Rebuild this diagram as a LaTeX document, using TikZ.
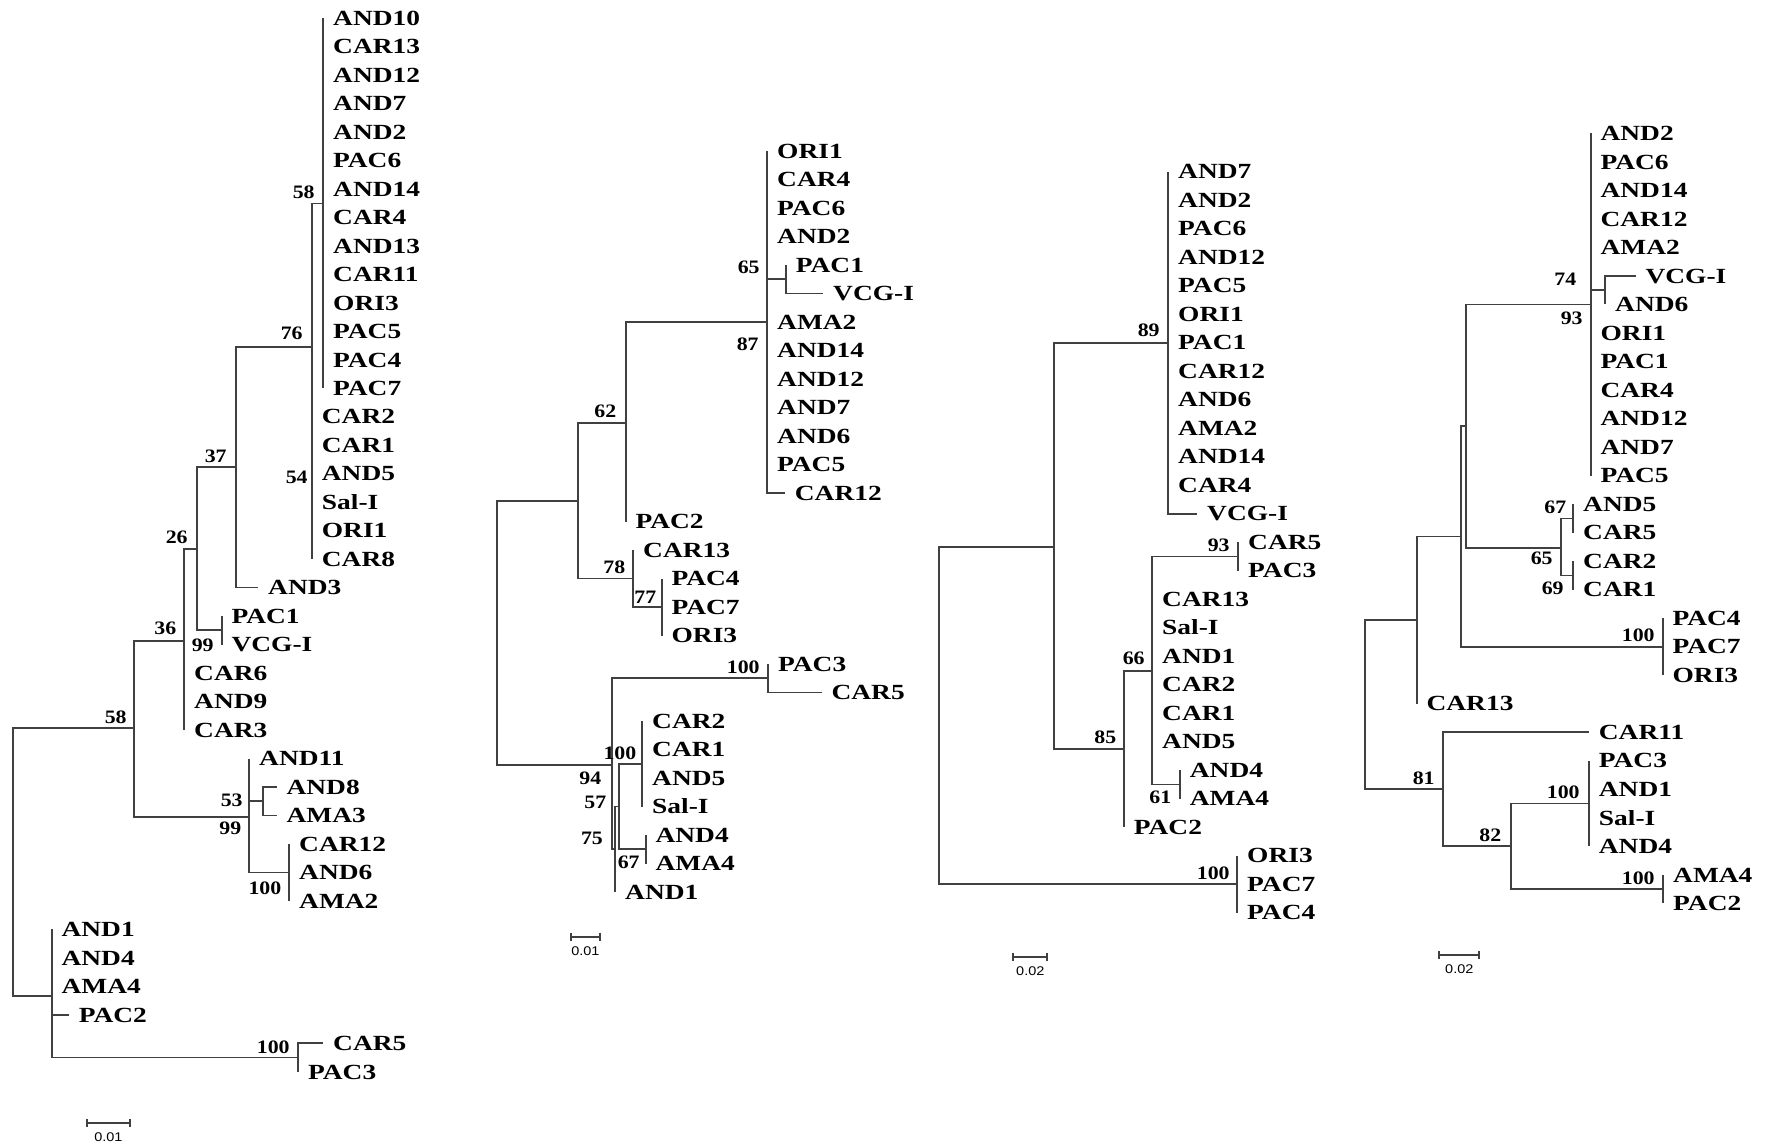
\documentclass[tikz,border=0pt]{standalone}
\usepackage{fontspec}
\newfontfamily\taxonfont{Liberation Serif}[FakeStretch=1.27]
\newfontfamily\bootfont{Liberation Serif}[FakeStretch=1.15]
\newfontfamily\barfont{Liberation Sans}[FakeStretch=1.15]

\tikzset{
  branch/.style={draw=black!75, line width=0.85pt},
  taxon/.style={anchor=base west, inner sep=0pt, yshift=-3.6pt,
    font=\taxonfont\bfseries\fontsize{10.8}{12}\selectfont},
  boot/.style={anchor=base east, inner sep=0pt, yshift=-3.2pt,
    font=\bootfont\bfseries\fontsize{9.5}{11}\selectfont},
  barlabel/.style={anchor=base, inner sep=0pt, yshift=-2.25pt,
    font=\barfont\fontsize{6.3}{7}\selectfont},
}
% a tip of the tree and its label
\newcommand\taxonat[4]{\coordinate (#1) at (#2,#3); \node[taxon] (#1l) at ({#2+9.5},#3) {#4};}
% a bootstrap value, right edge at x
\newcommand\bootat[4]{\node[boot] (#1) at (#2,#3) {#4};}
% rectangular branches from a parent to each child, stroked as one path
\newcommand\joinkids[2]{\draw[branch] \foreach \kid in {#2}{(#1) |- (\kid)};}
% scale bar: name, x0, x1, y, text
\newcommand\scalebar[5]{%
  \coordinate (#1a) at (#2,#4); \coordinate (#1b) at (#3,#4);
  \draw[branch] (#1a) -- (#1b)
    ([yshift=2pt]#1a) -- ([yshift=-2pt]#1a)
    ([yshift=2pt]#1b) -- ([yshift=-2pt]#1b);
  \node[barlabel] (#1t) at ({(#2+#3)/2},{#4+14}) {#5};}

\begin{document}
\begin{tikzpicture}[x=0.5pt, y=-0.5pt]
\fill[white] (0,0) rectangle (1765,1146);
\useasboundingbox (0,0) rectangle (1765,1146);

% ================= tree 1 =================
\taxonat{a0}{323.3}{18.0}{AND10}
\taxonat{a1}{323.3}{46.5}{CAR13}
\taxonat{a2}{323.3}{75.0}{AND12}
\taxonat{a3}{323.3}{103.4}{AND7}
\taxonat{a4}{323.3}{131.9}{AND2}
\taxonat{a5}{323.3}{160.4}{PAC6}
\taxonat{a6}{323.3}{188.9}{AND14}
\taxonat{a7}{323.3}{217.4}{CAR4}
\taxonat{a8}{323.3}{245.8}{AND13}
\taxonat{a9}{323.3}{274.3}{CAR11}
\taxonat{a10}{323.3}{302.8}{ORI3}
\taxonat{a11}{323.3}{331.3}{PAC5}
\taxonat{a12}{323.3}{359.8}{PAC4}
\taxonat{a13}{323.3}{388.2}{PAC7}
\taxonat{a14}{312}{416.7}{CAR2}
\taxonat{a15}{312}{445.2}{CAR1}
\taxonat{a16}{312}{473.7}{AND5}
\taxonat{a17}{312}{502.2}{Sal-I}
\taxonat{a18}{312}{530.6}{ORI1}
\taxonat{a19}{312}{559.1}{CAR8}
\taxonat{a20}{258.3}{587.6}{AND3}
\taxonat{a21}{221.7}{616.1}{PAC1}
\taxonat{a22}{221.7}{644.6}{VCG-I}
\taxonat{a23}{184.3}{673.0}{CAR6}
\taxonat{a24}{184.3}{701.5}{AND9}
\taxonat{a25}{184.3}{730.0}{CAR3}
\taxonat{a26}{249.3}{758.5}{AND11}
\taxonat{a27}{276.7}{787.0}{AND8}
\taxonat{a28}{276.7}{815.4}{AMA3}
\taxonat{a29}{289.3}{843.9}{CAR12}
\taxonat{a30}{289.3}{872.4}{AND6}
\taxonat{a31}{289.3}{900.9}{AMA2}
\taxonat{a32}{51.7}{929.4}{AND1}
\taxonat{a33}{51.7}{957.8}{AND4}
\taxonat{a34}{51.7}{986.3}{AMA4}
\taxonat{a35}{69}{1014.8}{PAC2}
\taxonat{a36}{323.3}{1043.3}{CAR5}
\taxonat{a37}{298.3}{1071.8}{PAC3}

\coordinate (an58) at (323.3,203.6);
\coordinate (an76) at (312,346.7);
\coordinate (an37) at (235.7,467.3);
\coordinate (an26) at (196.7,549.3);
\coordinate (an99) at (221.7,630.3);
\coordinate (an36) at (184.3,640.7);
\coordinate (an58b) at (134,728.3);
\coordinate (an99b) at (249.3,816.7);
\coordinate (an53) at (263.3,801.2);
\coordinate (an100) at (289.3,872.4);
\coordinate (aroot) at (12.7,862);
\coordinate (anbot) at (51.7,995.7);
\coordinate (an100c) at (298.3,1057.5);

\joinkids{an58}{a0,a1,a2,a3,a4,a5,a6,a7,a8,a9,a10,a11,a12,a13}
\joinkids{an76}{an58,a14,a15,a16,a17,a18,a19}
\joinkids{an37}{an76,a20}
\joinkids{an99}{a21,a22}
\joinkids{an26}{an37,an99}
\joinkids{an36}{an26,a23,a24,a25}
\joinkids{an53}{a27,a28}
\joinkids{an100}{a29,a30,a31}
\joinkids{an99b}{a26,an53,an100}
\joinkids{an58b}{an36,an99b}
\joinkids{an100c}{a36,a37}
\joinkids{anbot}{a32,a33,a34,a35,an100c}
\joinkids{aroot}{an58b,anbot}

\bootat{ab1}{315}{191.7}{58}
\bootat{ab2}{303}{333}{76}
\bootat{ab3}{308}{476.7}{54}
\bootat{ab4}{227}{456}{37}
\bootat{ab5}{188}{536.7}{26}
\bootat{ab6}{214}{645}{99}
\bootat{ab7}{176.7}{628.3}{36}
\bootat{ab8}{127}{716.7}{58}
\bootat{ab9}{243}{800}{53}
\bootat{ab10}{241.7}{828.3}{99}
\bootat{ab11}{281.7}{888.3}{100}
\bootat{ab12}{290}{1046.7}{100}

\scalebar{asb}{86.7}{130}{1123.3}{0.01}

% ================= tree 2 =================
\taxonat{b0}{767.3}{151}{ORI1}
\taxonat{b1}{767.3}{179.5}{CAR4}
\taxonat{b2}{767.3}{208}{PAC6}
\taxonat{b3}{767.3}{236.5}{AND2}
\taxonat{b4}{786}{265}{PAC1}
\taxonat{b5}{823.3}{293.5}{VCG-I}
\taxonat{b6}{767.3}{322}{AMA2}
\taxonat{b7}{767.3}{350.5}{AND14}
\taxonat{b8}{767.3}{379}{AND12}
\taxonat{b9}{767.3}{407.5}{AND7}
\taxonat{b10}{767.3}{436}{AND6}
\taxonat{b11}{767.3}{464.5}{PAC5}
\taxonat{b12}{785}{493}{CAR12}
\taxonat{b13}{625.7}{521.5}{PAC2}
\taxonat{b14}{633.3}{550}{CAR13}
\taxonat{b15}{661.7}{578.5}{PAC4}
\taxonat{b16}{661.7}{607}{PAC7}
\taxonat{b17}{661.7}{635.5}{ORI3}
\taxonat{b18}{768.3}{664}{PAC3}
\taxonat{b19}{821.7}{692.5}{CAR5}
\taxonat{b20}{642.3}{721}{CAR2}
\taxonat{b21}{642.3}{749.5}{CAR1}
\taxonat{b22}{642.3}{778}{AND5}
\taxonat{b23}{642.3}{806.5}{Sal-I}
\taxonat{b24}{645.7}{835}{AND4}
\taxonat{b25}{645.7}{863.5}{AMA4}
\taxonat{b26}{615.3}{892}{AND1}

\coordinate (bn87) at (767.3,322.3);
\coordinate (bn65) at (786,279.2);
\coordinate (bn62) at (625.7,422.7);
\coordinate (bn78) at (633.3,578.5);
\coordinate (bn77) at (661.7,607);
\coordinate (bnA) at (578.3,500.7);
\coordinate (broot) at (496.7,633);
\coordinate (bnL0) at (611.7,765);
\coordinate (bn100a) at (768.3,678.2);
\coordinate (bnL1) at (615.3,849.3);
\coordinate (bnL2) at (619.3,806.5);
\coordinate (bn100b) at (642.3,763.8);
\coordinate (bn67) at (645.7,849.3);

\joinkids{bn65}{b4,b5}
\joinkids{bn87}{b0,b1,b2,b3,bn65,b6,b7,b8,b9,b10,b11,b12}
\joinkids{bn62}{bn87,b13}
\joinkids{bn77}{b15,b16,b17}
\joinkids{bn78}{b14,bn77}
\joinkids{bnA}{bn62,bn78}
\joinkids{bn100a}{b18,b19}
\joinkids{bn100b}{b20,b21,b22,b23}
\joinkids{bn67}{b24,b25}
\joinkids{bnL2}{bn100b,bn67}
\joinkids{bnL1}{bnL2,b26}
\joinkids{bnL0}{bn100a,bnL1}
\joinkids{broot}{bnA,bnL0}

\bootat{bb1}{760}{266.7}{65}
\bootat{bb2}{759}{344}{87}
\bootat{bb3}{616.7}{410.7}{62}
\bootat{bb4}{625.7}{566.7}{78}
\bootat{bb5}{656.7}{596.7}{77}
\bootat{bb6}{760}{666.7}{100}
\bootat{bb7}{636.7}{753.3}{100}
\bootat{bb8}{601.7}{778.3}{94}
\bootat{bb9}{606.7}{801.7}{57}
\bootat{bb10}{603.3}{838.3}{75}
\bootat{bb11}{640}{861.7}{67}

\scalebar{bsb}{570.7}{600}{936.7}{0.01}

% ================= tree 3 =================
\taxonat{c0}{1168.3}{171.7}{AND7}
\taxonat{c1}{1168.3}{200.2}{AND2}
\taxonat{c2}{1168.3}{228.7}{PAC6}
\taxonat{c3}{1168.3}{257.2}{AND12}
\taxonat{c4}{1168.3}{285.7}{PAC5}
\taxonat{c5}{1168.3}{314.2}{ORI1}
\taxonat{c6}{1168.3}{342.7}{PAC1}
\taxonat{c7}{1168.3}{371.2}{CAR12}
\taxonat{c8}{1168.3}{399.7}{AND6}
\taxonat{c9}{1168.3}{428.2}{AMA2}
\taxonat{c10}{1168.3}{456.7}{AND14}
\taxonat{c11}{1168.3}{485.2}{CAR4}
\taxonat{c12}{1197.3}{513.7}{VCG-I}
\taxonat{c13}{1238.3}{542.2}{CAR5}
\taxonat{c14}{1238.3}{570.7}{PAC3}
\taxonat{c15}{1152.3}{599.2}{CAR13}
\taxonat{c16}{1152.3}{627.7}{Sal-I}
\taxonat{c17}{1152.3}{656.2}{AND1}
\taxonat{c18}{1152.3}{684.7}{CAR2}
\taxonat{c19}{1152.3}{713.2}{CAR1}
\taxonat{c20}{1152.3}{741.7}{AND5}
\taxonat{c21}{1180}{770.2}{AND4}
\taxonat{c22}{1180}{798.7}{AMA4}
\taxonat{c23}{1124}{827.2}{PAC2}
\taxonat{c24}{1237.3}{855.7}{ORI3}
\taxonat{c25}{1237.3}{884.2}{PAC7}
\taxonat{c26}{1237.3}{912.7}{PAC4}

\coordinate (cn89) at (1168.3,342.7);
\coordinate (cnA) at (1054,546.7);
\coordinate (cn85) at (1124,749.3);
\coordinate (cn66) at (1152.3,671);
\coordinate (cn93) at (1238.3,556.5);
\coordinate (cn61) at (1180,784.5);
\coordinate (croot) at (939.3,716);
\coordinate (cn100) at (1237.3,884.2);

\joinkids{cn89}{c0,c1,c2,c3,c4,c5,c6,c7,c8,c9,c10,c11,c12}
\joinkids{cn93}{c13,c14}
\joinkids{cn61}{c21,c22}
\joinkids{cn66}{cn93,c15,c16,c17,c18,c19,c20,cn61}
\joinkids{cn85}{cn66,c23}
\joinkids{cnA}{cn89,cn85}
\joinkids{cn100}{c24,c25,c26}
\joinkids{croot}{cnA,cn100}

\bootat{cb1}{1160}{330}{89}
\bootat{cb2}{1230}{545}{93}
\bootat{cb3}{1145}{658.3}{66}
\bootat{cb4}{1116.7}{737.3}{85}
\bootat{cb5}{1171.7}{796.7}{61}
\bootat{cb6}{1230}{872.7}{100}

\scalebar{csb}{1013.3}{1047.3}{956.7}{0.02}

% ================= tree 4 =================
\taxonat{d0}{1590.7}{133.3}{AND2}
\taxonat{d1}{1590.7}{161.8}{PAC6}
\taxonat{d2}{1590.7}{190.3}{AND14}
\taxonat{d3}{1590.7}{218.9}{CAR12}
\taxonat{d4}{1590.7}{247.4}{AMA2}
\taxonat{d5}{1635.7}{275.9}{VCG-I}
\taxonat{d6}{1605.3}{304.4}{AND6}
\taxonat{d7}{1590.7}{332.9}{ORI1}
\taxonat{d8}{1590.7}{361.5}{PAC1}
\taxonat{d9}{1590.7}{390.0}{CAR4}
\taxonat{d10}{1590.7}{418.5}{AND12}
\taxonat{d11}{1590.7}{447.0}{AND7}
\taxonat{d12}{1590.7}{475.5}{PAC5}
\taxonat{d13}{1573.3}{504.1}{AND5}
\taxonat{d14}{1573.3}{532.6}{CAR5}
\taxonat{d15}{1573.3}{561.1}{CAR2}
\taxonat{d16}{1573.3}{589.6}{CAR1}
\taxonat{d17}{1662.7}{618.1}{PAC4}
\taxonat{d18}{1662.7}{646.7}{PAC7}
\taxonat{d19}{1662.7}{675.2}{ORI3}
\taxonat{d20}{1416.7}{703.7}{CAR13}
\taxonat{d21}{1589}{732.2}{CAR11}
\taxonat{d22}{1589}{760.7}{PAC3}
\taxonat{d23}{1589}{789.3}{AND1}
\taxonat{d24}{1589}{817.8}{Sal-I}
\taxonat{d25}{1589}{846.3}{AND4}
\taxonat{d26}{1663.3}{874.8}{AMA4}
\taxonat{d27}{1663.3}{903.3}{PAC2}

\coordinate (dn93) at (1590.7,304.4);
\coordinate (dn74) at (1605.3,290.2);
\coordinate (dn65) at (1561.3,547.9);
\coordinate (dn67) at (1573.3,518.4);
\coordinate (dn69) at (1573.3,575.4);
\coordinate (dnN1) at (1465.7,426.2);
\coordinate (dnN2) at (1461,536.5);
\coordinate (dn100a) at (1662.7,646.7);
\coordinate (dnN3) at (1416.7,620);
\coordinate (droot) at (1365,705);
\coordinate (dn81) at (1443.3,789.3);
\coordinate (dn82) at (1510.7,846.3);
\coordinate (dn100b) at (1589,803.5);
\coordinate (dn100c) at (1663.3,889.1);

\joinkids{dn74}{d5,d6}
\joinkids{dn93}{d0,d1,d2,d3,d4,dn74,d7,d8,d9,d10,d11,d12}
\joinkids{dn67}{d13,d14}
\joinkids{dn69}{d15,d16}
\joinkids{dn65}{dn67,dn69}
\joinkids{dnN1}{dn93,dn65}
\joinkids{dn100a}{d17,d18,d19}
\joinkids{dnN2}{dnN1,dn100a}
\joinkids{dnN3}{dnN2,d20}
\joinkids{dn100b}{d22,d23,d24,d25}
\joinkids{dn100c}{d26,d27}
\joinkids{dn82}{dn100b,dn100c}
\joinkids{dn81}{d21,dn82}
\joinkids{droot}{dnN3,dn81}

\bootat{db1}{1576.7}{279.3}{74}
\bootat{db2}{1583}{318.3}{93}
\bootat{db3}{1566.7}{507.3}{67}
\bootat{db4}{1553}{558.3}{65}
\bootat{db5}{1564}{588.3}{69}
\bootat{db6}{1655}{635}{100}
\bootat{db7}{1435}{778.3}{81}
\bootat{db8}{1580}{792.3}{100}
\bootat{db9}{1501.7}{835}{82}
\bootat{db10}{1655}{878.3}{100}

\scalebar{dsb}{1439.3}{1479.3}{955}{0.02}
\end{tikzpicture}
\end{document}
